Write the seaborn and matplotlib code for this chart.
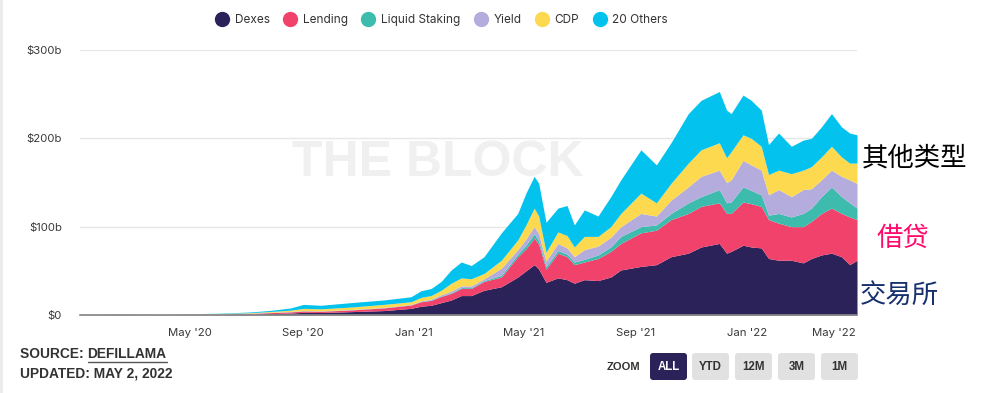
import matplotlib
matplotlib.use("Agg")
import matplotlib.pyplot as plt
from matplotlib.lines import Line2D
from matplotlib.patches import FancyBboxPatch, Rectangle
from matplotlib.transforms import IdentityTransform
import seaborn as sns
import pandas as pd

# ---------------- data (values in $ billions) ----------------
dates = ["2020-01-01", "2020-02-14", "2020-03-29", "2020-05-04", "2020-06-03",
         "2020-07-06", "2020-07-28", "2020-08-19", "2020-09-02", "2020-09-21",
         "2020-10-24", "2020-11-29", "2020-12-29", "2021-01-09", "2021-01-20",
         "2021-01-31", "2021-02-11", "2021-02-22", "2021-03-05", "2021-03-19",
         "2021-04-07", "2021-04-25", "2021-05-04", "2021-05-13", "2021-05-18",
         "2021-05-26", "2021-06-08", "2021-06-18", "2021-06-26", "2021-07-07",
         "2021-07-22", "2021-08-05", "2021-08-16", "2021-09-07", "2021-09-24",
         "2021-10-10", "2021-10-29", "2021-11-12", "2021-12-02", "2021-12-10",
         "2021-12-15", "2021-12-28", "2022-01-06", "2022-01-17", "2022-01-25",
         "2022-02-05", "2022-02-19", "2022-03-04", "2022-03-13", "2022-03-24",
         "2022-04-04", "2022-04-15", "2022-04-24", "2022-05-02"]

dexes = [0.2, 0.25, 0.15, 0.3, 0.4, 0.9, 1.5, 2.2, 3.0, 2.8,
         3.8, 5.0, 7.5, 10, 11, 14, 17, 22, 22, 28,
         32, 43, 50, 57, 52, 37, 42, 40, 36, 40,
         39, 43, 51, 55, 57, 66, 70, 77, 81, 70,
         72, 79, 77, 76, 64, 62, 62, 59, 64, 68,
         70, 66, 57, 62]
lending = [0.2, 0.3, 0.2, 0.4, 0.6, 0.9, 1.2, 1.3, 1.5, 1.4,
           1.9, 3.0, 3.8, 5, 5.5, 7, 7.5, 8, 8, 10,
           11, 23, 25, 30, 28, 15, 28, 26, 21, 20,
           25, 29, 30, 38, 39, 42, 45, 46, 46, 45,
           43, 49, 49, 47, 44, 42, 38, 41, 42, 47,
           51, 49, 54, 46]
liquid_staking = [0.05, 0.05, 0.05, 0.05, 0.05, 0.05, 0.05, 0.1, 0.1, 0.1,
                  0.1, 0.1, 0.2, 0.3, 0.5, 0.5, 0.5, 1, 1, 1,
                  2, 3, 4, 5, 4, 3, 3, 3, 3, 3,
                  4, 5, 8, 7, 6, 7, 12, 11, 15, 12,
                  13, 17, 15, 13, 5, 11, 11, 15, 15, 19,
                  24, 19, 16, 13]
yield_ = [0.05, 0.05, 0.05, 0.05, 0.1, 0.2, 0.3, 0.4, 0.4, 0.4,
          0.4, 0.5, 0.5, 0.7, 1, 1.5, 2, 2, 2, 2,
          8, 5, 7, 8, 8, 6, 8, 7, 6, 11,
          10, 11, 11, 15, 10, 15, 18, 23, 22, 23,
          25, 30, 29, 28, 23, 27, 23, 27, 22, 19,
          19, 23, 26, 28]
cdp = [0.4, 0.5, 0.3, 0.4, 0.5, 0.6, 0.9, 1.5, 2.5, 2.3,
       2.8, 3.4, 3.0, 4, 4, 5, 9, 9, 8, 6,
       9, 11, 16, 21, 20, 10, 13, 14, 11, 15,
       11, 12, 15, 23, 15, 19, 27, 30, 31, 28,
       32, 29, 30, 27, 23, 22, 26, 22, 25, 26,
       27, 22, 19, 23]
others = [0.2, 0.3, 0.15, 0.3, 0.4, 0.8, 1.3, 2.5, 4.5, 4.0,
          5.0, 5.0, 5.7, 7.5, 8, 10, 15, 18, 15, 19,
          31, 30, 36, 36, 37, 34, 27, 34, 25, 30,
          23, 34, 38, 49, 43, 46, 56, 56, 58, 54,
          43, 45, 43, 41, 34, 42, 31, 34, 32, 34,
          37, 34, 34, 32]

series_names = ["Dexes", "Lending", "Liquid Staking", "Yield", "CDP", "20 Others"]
series_colors = ["#2b2259", "#f0426a", "#3dbcae", "#b5acde", "#fdd94f", "#03c3ee"]

y_ticks = [0, 100, 200, 300]
y_tick_labels = ["$0", "$100b", "$200b", "$300b"]
x_tick_dates = ["2020-05-01", "2020-09-01", "2021-01-01", "2021-05-01",
                "2021-09-01", "2022-01-01", "2022-05-01"]
x_tick_labels = ["May '20", "Sep '20", "Jan '21", "May '21", "Sep '21", "Jan '22", "May '22"]

annotations = ["其他类型", "借贷", "交易所"]
annotation_colors = ["#000000", "#ff0a6c", "#17306e"]
zoom_buttons = ["ALL", "YTD", "12M", "3M", "1M"]

# ---------------- figure ----------------
sns.set_theme(style="white")
plt.rcParams["font.family"] = ["Inter", "DejaVu Sans"]
W, H = 996, 393
fig = plt.figure(figsize=(W / 100, H / 100), dpi=100)
fig.patch.set_facecolor("white")
ax = fig.add_axes([80 / W, (H - 315) / H, 777 / W, 265 / H])

x = pd.to_datetime(dates)
palette = sns.color_palette(series_colors)
ax.stackplot(x, dexes, lending, liquid_staking, yield_, cdp, others,
             colors=palette, linewidth=0, zorder=3)

# watermark
ax.text(0.46, 0.575, "THE BLOCK", transform=ax.transAxes, ha="center", va="center",
        fontsize=36, fontweight="bold", color="#f0f0f0", zorder=1,
        family=["Liberation Sans", "DejaVu Sans"])

ax.set_ylim(0, 300)
ax.set_xlim(pd.Timestamp("2020-01-01"), pd.Timestamp("2022-05-02"))
ax.set_yticks(y_ticks)
ax.set_yticklabels(y_tick_labels)
ax.set_xticks(pd.to_datetime(x_tick_dates))
ax.set_xticklabels(x_tick_labels)
ax.xaxis.get_ticklabels()[-1].set_horizontalalignment("right")
ax.grid(axis="y", color="#e6e6e6", linewidth=1, zorder=0)
ax.grid(axis="x", visible=False)
ax.set_axisbelow(True)
sns.despine(ax=ax, left=True, top=True, right=True)
ax.spines["bottom"].set_color("#8a8a8a")
ax.spines["bottom"].set_linewidth(1.2)
ax.spines["bottom"].set_zorder(5)
ax.tick_params(axis="y", length=0, pad=13, labelsize=8.2, labelcolor="#3a3a3a")
ax.tick_params(axis="x", length=0, pad=9, labelsize=8.2, labelcolor="#3a3a3a")
ax.set_xlabel("")
ax.set_ylabel("")

# legend
handles = [Line2D([], [], marker="o", linestyle="", markersize=10,
                  markerfacecolor=c, markeredgecolor=c) for c in series_colors]
fig.legend(handles, series_names, loc="center", bbox_to_anchor=(442 / W, 1 - 20 / H),
           ncol=6, frameon=False, fontsize=8.5, handletextpad=0.55, columnspacing=1.25,
           handlelength=1.0, labelcolor="#333333")

# Chinese annotations
cjk = ["Noto Sans CJK SC", "DejaVu Sans"]
fig.text(862 / W, 1 - 158 / H, annotations[0], ha="left", va="center", fontsize=19,
         color=annotation_colors[0], family=cjk)
fig.text(877 / W, 1 - 238 / H, annotations[1], ha="left", va="center", fontsize=19,
         color=annotation_colors[1], family=cjk)
fig.text(860 / W, 1 - 295 / H, annotations[2], ha="left", va="center", fontsize=19,
         color=annotation_colors[2], family=cjk)

# source text
src_font = ["Liberation Sans", "DejaVu Sans"]
t_prefix = fig.text(20 / W, 1 - 354 / H, "SOURCE: ", ha="left", va="center", fontsize=9.9,
                    fontweight="bold", color="#333333", family=src_font)
fig.canvas.draw()
bb = t_prefix.get_window_extent()
t_link = fig.text(bb.x1 / W, 1 - 354 / H, "DEFILLAMA", ha="left", va="center", fontsize=9.9,
                  fontweight="bold", color="#333333", family=src_font)
fig.text(20 / W, 1 - 373 / H, "UPDATED: MAY 2, 2022", ha="left", va="center", fontsize=9.9,
         fontweight="bold", color="#333333", family=src_font)
fig.canvas.draw()
bl = t_link.get_window_extent()
fig.add_artist(Line2D([bl.x0 / W, bl.x1 / W], [1 - 362 / H, 1 - 362 / H],
                      transform=fig.transFigure, color="#555555", linewidth=1.0))

# left border strip
fig.add_artist(Rectangle((0, 0), 3, H, transform=IdentityTransform(),
                         facecolor="#ebebeb", edgecolor="none"))

# zoom buttons
fig.text(623.5 / W, 1 - 367 / H, "ZOOM", ha="center", va="center", fontsize=8,
         fontweight="bold", color="#333333", family=src_font)
btn_x = [650, 692, 735, 778, 821]
for i, (lbl, bx) in enumerate(zip(zoom_buttons, btn_x)):
    active = i == 0
    fig.add_artist(FancyBboxPatch((bx, H - 380), 37, 27,
                                  boxstyle="round,pad=0,rounding_size=3",
                                  transform=IdentityTransform(),
                                  facecolor="#2b2259" if active else "#e1e1e1",
                                  edgecolor="none"))
    fig.text((bx + 18.5) / W, 1 - 367 / H, lbl, ha="center", va="center", fontsize=8.3,
             fontweight="bold", color="white" if active else "#333333", family=src_font)

fig.savefig("out.png", dpi=100, facecolor="white")
